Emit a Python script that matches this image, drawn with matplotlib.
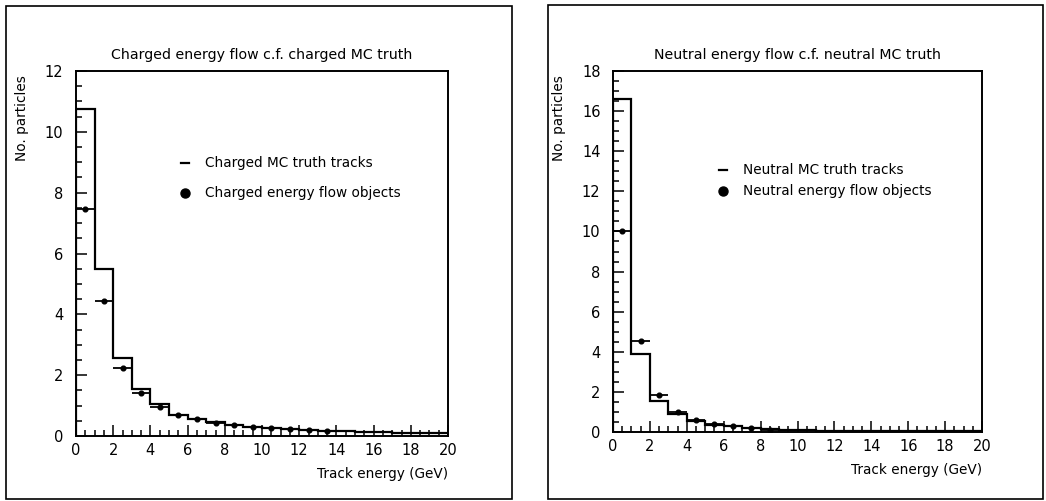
import matplotlib
matplotlib.use("Agg")
import matplotlib.pyplot as plt
from matplotlib.patches import Rectangle
from matplotlib.ticker import MultipleLocator
import numpy as np

bin_edges = list(range(0, 21))

charged_mc = [10.75, 5.5, 2.55, 1.55, 1.05, 0.7, 0.55, 0.45, 0.37, 0.3,
              0.25, 0.22, 0.2, 0.17, 0.15, 0.13, 0.12, 0.1, 0.1, 0.1]
charged_ef = [7.45, 4.45, 2.25, 1.4, 0.95, 0.7, 0.55, 0.42, 0.35, 0.3,
              0.25, 0.22, 0.2, 0.18]

neutral_mc = [16.6, 3.9, 1.55, 0.9, 0.55, 0.35, 0.28, 0.2, 0.14, 0.1,
              0.08, 0.07, 0.06, 0.05, 0.05, 0.05, 0.05, 0.05, 0.05, 0.05]
neutral_ef = [10.0, 4.55, 1.85, 1.0, 0.6, 0.4, 0.3, 0.22, 0.12]

titles = ["Charged energy flow c.f. charged MC truth",
          "Neutral energy flow c.f. neutral MC truth"]
legend_mc = ["Charged MC truth tracks", "Neutral MC truth tracks"]
legend_ef = ["Charged energy flow objects", "Neutral energy flow objects"]
ymax = [12, 18]

W, H = 1046, 501
fig = plt.figure(figsize=(W / 100, H / 100), dpi=100)
plt.rcParams['font.family'] = ['DejaVu Sans']

def fx(px):
    return px / W

def fy(py):
    return 1 - py / H

# outer frames
fig.patches.append(Rectangle((fx(6), fy(499)), fx(506), (493) / H,
                             transform=fig.transFigure, fill=False, lw=1.2, ec='black'))
fig.patches.append(Rectangle((fx(548), fy(499)), fx(495), (494) / H,
                             transform=fig.transFigure, fill=False, lw=1.2, ec='black'))

axes_px = [(76, 71, 448, 436), (613, 71, 982, 432)]
legend_pos = [((185, 163), (185, 193), 205), ((723, 170), (723, 191), 743)]

panels = [(charged_mc, charged_ef), (neutral_mc, neutral_ef)]
for i, (mc, ef) in enumerate(panels):
    l, t, r, b = axes_px[i]
    ax = fig.add_axes([fx(l), fy(b), fx(r - l), (b - t) / H])
    edges = np.array(bin_edges, dtype=float)
    ax.stairs(mc, edges, color='black', lw=1.6, baseline=None)
    ax.plot([edges[0], edges[0]], [0, mc[0]], color='black', lw=1.6)
    centers = (edges[:-1] + edges[1:]) / 2
    n = len(ef)
    ax.errorbar(centers[:n], ef, xerr=0.5, fmt='o', color='black', ms=3.4,
                elinewidth=1.3, capsize=0)
    ax.set_xlim(0, 20)
    ax.set_ylim(0, ymax[i])
    ax.xaxis.set_major_locator(MultipleLocator(2))
    ax.xaxis.set_minor_locator(MultipleLocator(0.5))
    ax.yaxis.set_major_locator(MultipleLocator(2))
    ax.yaxis.set_minor_locator(MultipleLocator(0.5))
    ax.tick_params(which='both', direction='in', top=False, right=False,
                   labelsize=10.5)
    ax.tick_params(which='major', length=8, width=1.1)
    ax.tick_params(which='minor', length=4, width=1.1)
    for s in ax.spines.values():
        s.set_linewidth(1.4)
    ax.tick_params(axis='x', pad=5)
    ax.tick_params(axis='y', pad=9)
    ax.set_title(titles[i], fontsize=10.2, pad=9)
    ax.text(1.0, -0.085, "Track energy (GeV)", transform=ax.transAxes,
            ha='right', va='top', fontsize=9.8)
    ax.text(-0.145, 0.87, "No. particles", transform=ax.transAxes,
            rotation=90, ha='center', va='center', fontsize=9.8)
    # legend
    (m1x, m1y), (m2x, m2y), tx = legend_pos[i]
    fig.lines.append(plt.Line2D([fx(m1x - 4), fx(m1x + 4)], [fy(m1y), fy(m1y)],
                                transform=fig.transFigure, color='black', lw=1.6))
    fig.lines.append(plt.Line2D([fx(m2x)], [fy(m2y)], transform=fig.transFigure,
                                marker='o', color='black', ms=6.5, ls='none'))
    fig.text(fx(tx), fy(m1y), legend_mc[i], ha='left', va='center', fontsize=9.8)
    fig.text(fx(tx), fy(m2y), legend_ef[i], ha='left', va='center', fontsize=9.8)

fig.savefig("out.png", dpi=100)
